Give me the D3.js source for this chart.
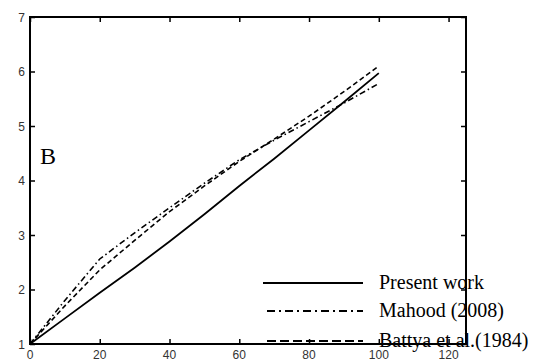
<!DOCTYPE html>
<html>
<head>
<meta charset="utf-8">
<script src="https://cdn.jsdelivr.net/npm/d3@7"></script>
<style>
  body { margin: 0; background: #fff; }
  svg { display: block; }
</style>
</head>
<body>
<div id="chart"></div>
<script>
var xValues = [0, 10, 20, 30, 40, 50, 60, 70, 80, 90, 100];
var presentWork = [1, 1.47, 1.94, 2.4, 2.88, 3.38, 3.9, 4.4, 4.92, 5.44, 5.97];
var mahood = [1, 1.8, 2.56, 3.04, 3.5, 3.95, 4.38, 4.74, 5.08, 5.42, 5.78];
var battya = [1, 1.7, 2.36, 2.9, 3.43, 3.9, 4.35, 4.76, 5.18, 5.63, 6.1];
var xTicks = [0, 20, 40, 60, 80, 100, 120];
var yTicks = [1, 2, 3, 4, 5, 6, 7];
var seriesNames = ["Present work", "Mahood (2008)", "Battya et al.(1984)"];

var width = 543;
var height = 360;
var boxLeft = 30, boxRight = 466, boxTop = 17, boxBottom = 344;

var svg = d3.select("#chart").append("svg")
    .attr("width", width)
    .attr("height", height);

svg.append("rect")
    .attr("width", width)
    .attr("height", height)
    .attr("fill", "#fff");

var x = d3.scaleLinear().domain([0, 125]).range([boxLeft, boxRight]);
var y = d3.scaleLinear().domain([1, 7]).range([boxBottom, boxTop]);

// curves
var dashes = [null, "6,3,1.5,3", "5,3"];
var allSeries = [presentWork, mahood, battya];

var line = d3.line()
    .x(function (d) { return x(d[0]); })
    .y(function (d) { return y(d[1]); });

allSeries.forEach(function (vals, i) {
    var pts = xValues.map(function (v, j) { return [v, vals[j]]; });
    svg.append("path")
        .attr("d", line(pts))
        .attr("fill", "none")
        .attr("stroke", "#000")
        .attr("stroke-width", i == 0 ? 1.8 : 1.6)
        .attr("stroke-dasharray", dashes[i]);
});

// axes, ticks inward on all four sides
var tickFont = "Liberation Sans, Arial, sans-serif";

svg.append("g")
    .attr("transform", "translate(0," + boxBottom + ")")
    .call(d3.axisTop(x).tickValues(xTicks).tickSize(5).tickFormat(""));
svg.append("g")
    .attr("transform", "translate(0," + boxTop + ")")
    .call(d3.axisBottom(x).tickValues(xTicks).tickSize(5).tickFormat(""));
svg.append("g")
    .attr("transform", "translate(" + boxLeft + ",0)")
    .call(d3.axisRight(y).tickValues(yTicks).tickSize(5).tickFormat(""));
svg.append("g")
    .attr("transform", "translate(" + boxRight + ",0)")
    .call(d3.axisLeft(y).tickValues(yTicks).tickSize(5).tickFormat(""));

svg.selectAll(".domain").remove();
svg.selectAll(".tick line").attr("stroke", "#000").attr("stroke-width", 1.5);

svg.append("rect")
    .attr("x", boxLeft)
    .attr("y", boxTop)
    .attr("width", boxRight - boxLeft)
    .attr("height", boxBottom - boxTop)
    .attr("fill", "none")
    .attr("stroke", "#000")
    .attr("stroke-width", 2);

svg.selectAll(".xlab")
    .data(xTicks)
    .enter()
    .append("text")
    .attr("x", function (d) { return x(d); })
    .attr("y", boxBottom + 15)
    .attr("text-anchor", "middle")
    .attr("font-family", tickFont)
    .attr("font-size", "12px")
    .attr("fill", "#333")
    .text(function (d) { return d; });

svg.selectAll(".ylab")
    .data(yTicks)
    .enter()
    .append("text")
    .attr("x", boxLeft - 5)
    .attr("y", function (d) { return y(d) + 4.5; })
    .attr("text-anchor", "end")
    .attr("font-family", tickFont)
    .attr("font-size", "12px")
    .attr("fill", "#333")
    .text(function (d) { return d; });

// panel label
svg.append("text")
    .attr("x", 40)
    .attr("y", 164)
    .attr("font-family", "Liberation Serif, Times New Roman, serif")
    .attr("font-size", "24px")
    .attr("fill", "#000")
    .text("B");

// legend
var legY = [283, 311, 341];
seriesNames.forEach(function (name, i) {
    svg.append("line")
        .attr("x1", i == 0 ? 263 : 267)
        .attr("x2", 363)
        .attr("y1", legY[i])
        .attr("y2", legY[i])
        .attr("stroke", "#000")
        .attr("stroke-width", 1.8)
        .attr("stroke-dasharray", i == 0 ? null : (i == 1 ? "8,4,2,4" : "9,4"));
    svg.append("text")
        .attr("x", 379)
        .attr("y", legY[i] + 6)
        .attr("font-family", "Liberation Serif, Times New Roman, serif")
        .attr("font-size", "20px")
        .attr("fill", "#000")
        .text(name);
});
</script>
</body>
</html>
